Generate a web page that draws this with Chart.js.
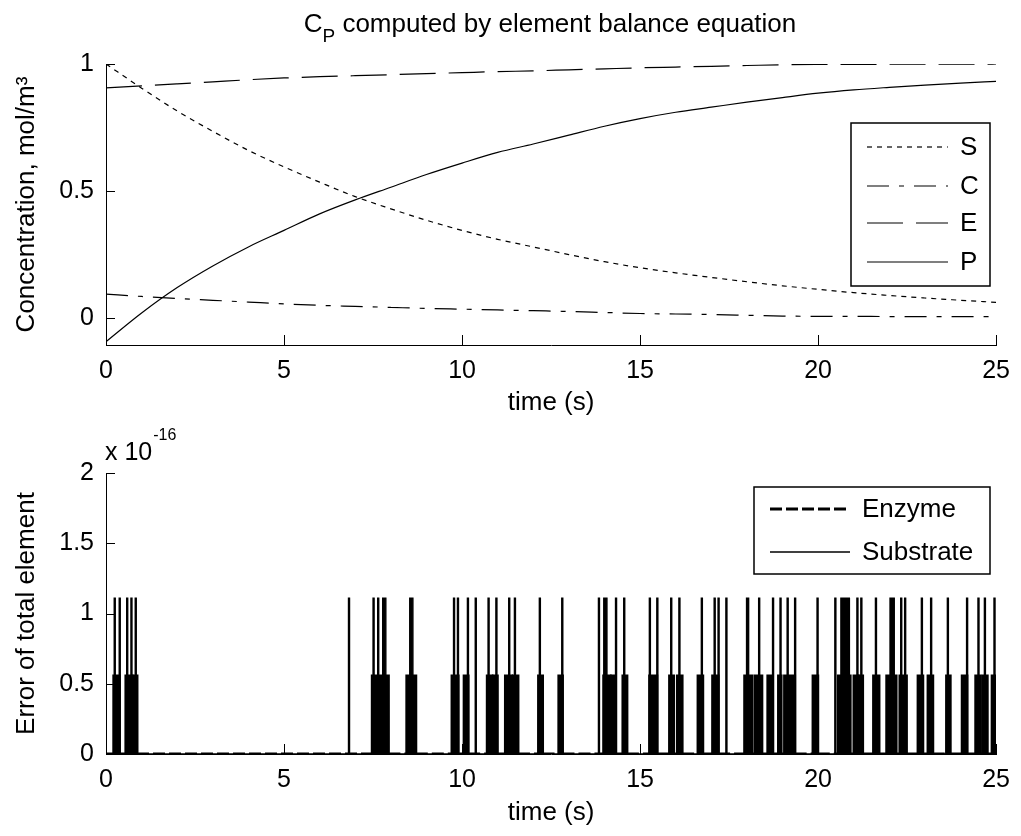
<!DOCTYPE html>
<html lang="en">
  <head>
    <meta charset="UTF-8" />
    <title>Element balance</title>
    <script src="https://cdn.jsdelivr.net/npm/chart.js"></script>
    <style>
      body {
        margin: 0;
        background: #fff;
      }
      .panel {
        position: absolute;
        left: 0;
        width: 1021px;
      }
      #topPanel {
        top: 0;
        height: 420px;
      }
      #bottomPanel {
        top: 420px;
        height: 416px;
      }
    </style>
  </head>
  <body>
    <div class="panel" id="topPanel"><canvas id="concChart"></canvas></div>
    <div class="panel" id="bottomPanel"><canvas id="errorChart"></canvas></div>

    <script>
      // ---- data ----
      const timeTop = [0, 1, 2, 3, 4, 5, 6, 7, 8, 9, 10, 11, 12, 13, 14, 15, 16, 17, 18, 19, 20, 21, 22, 23, 24, 25];
      const sConc = [1.0, 0.905, 0.815, 0.735, 0.66, 0.595, 0.535, 0.478, 0.43, 0.385, 0.345, 0.31, 0.28, 0.25, 0.222, 0.198, 0.178, 0.16, 0.143, 0.127, 0.113, 0.1, 0.089, 0.079, 0.07, 0.062];
      const cConc = [0.094, 0.085, 0.077, 0.07, 0.063, 0.056, 0.05, 0.046, 0.042, 0.038, 0.035, 0.032, 0.029, 0.026, 0.022, 0.018, 0.016, 0.014, 0.011, 0.008, 0.007, 0.007, 0.006, 0.006, 0.006, 0.006];
      const eConc = [0.906, 0.914, 0.922, 0.93, 0.938, 0.945, 0.95, 0.954, 0.958, 0.962, 0.966, 0.97, 0.973, 0.977, 0.981, 0.985, 0.988, 0.991, 0.994, 0.997, 0.998, 0.998, 0.999, 0.999, 0.999, 1.0];
      const pConc = [-0.093, 0.02, 0.12, 0.205, 0.28, 0.345, 0.41, 0.465, 0.515, 0.565, 0.61, 0.652, 0.685, 0.72, 0.755, 0.785, 0.81, 0.83, 0.85, 0.868, 0.885, 0.898, 0.908, 0.917, 0.925, 0.932];

      const xTicks = [0, 5, 10, 15, 20, 25];
      const yTicksTop = [0, 0.5, 1];
      const yTicksBottom = [0, 0.5, 1, 1.5, 2];

      // error plot, values in units of 1e-16
      const substrateLevel = 1.11;
      const enzymeLevel = 0.555;
      const substrateSpikes = [0.23, 0.37, 0.58, 0.7, 0.82, 6.81, 7.5, 7.63, 9.76, 9.87, 10.15, 10.37, 10.73, 10.95, 11.31, 11.47, 12.17, 12.8, 13.83, 14.31, 14.54, 15.26, 15.47, 15.86, 16.09, 16.72, 17.08, 17.19, 17.41, 18.33, 18.72, 18.93, 19.13, 19.34, 19.97, 20.47, 21.09, 21.2, 21.61, 22.32, 22.43, 22.9, 23.16, 23.63, 24.17, 24.49, 24.67, 24.94];
      const substrateBursts = [[7.77, 7.86], [8.53, 8.62], [13.98, 14.07], [17.99, 18.05], [20.64, 20.88], [22.02, 22.14]];
      const enzymeBlocks = [
        [0.22, 0.37], [0.56, 0.73], [0.78, 0.87], [7.48, 7.93], [8.45, 8.7], [9.72, 9.89],
        [10.06, 10.17], [10.71, 10.84], [10.88, 10.99], [11.22, 11.39], [11.44, 11.57], [12.15, 12.26],
        [12.72, 12.82], [13.98, 14.16], [14.2, 14.3], [14.52, 14.63], [15.27, 15.47], [15.83, 15.94],
        [16.05, 16.18], [16.63, 16.76], [17.04, 17.19], [17.94, 18.14], [18.23, 18.42], [18.59, 18.72],
        [18.89, 18.96], [19.06, 19.34], [19.86, 19.99], [20.57, 20.9], [21.01, 21.12], [21.16, 21.25],
        [21.56, 21.71], [21.93, 22.19], [22.3, 22.48], [22.81, 22.94], [23.09, 23.22], [23.61, 23.71],
        [24.05, 24.18], [24.43, 24.56], [24.64, 24.75], [24.89, 24.99]
      ];
      const spikeWidth = 0.03;

      const FONT = "'Liberation Sans', Arial, sans-serif";

      // turn [start, end] intervals into an up / across / down trace
      // (x kept strictly increasing so the filler behaves)
      function stepSeries(intervals, level) {
        const pts = [{ x: 0, y: 0 }];
        intervals.forEach(([a, b]) => {
          pts.push({ x: a - 0.001, y: 0 }, { x: a, y: level }, { x: b, y: level }, { x: b + 0.001, y: 0 });
        });
        pts.push({ x: 25, y: 0 });
        return pts;
      }

      const substrateIntervals = substrateSpikes
        .map((t) => [t, t + spikeWidth])
        .concat(substrateBursts)
        .sort((p, q) => p[0] - q[0]);

      // MATLAB-ish decorations: inward ticks, boxed legend, extra text
      const matlabDecor = {
        id: "matlabDecor",
        afterDatasetsDraw(chart, args, opts) {
          const { ctx, chartArea, scales } = chart;
          ctx.save();
          ctx.strokeStyle = "#000";
          ctx.fillStyle = "#000";
          ctx.lineWidth = 1;
          ctx.setLineDash([]);

          // inward tick marks
          scales.x.ticks.forEach((t) => {
            const px = Math.round(scales.x.getPixelForValue(t.value)) + 0.5;
            ctx.beginPath();
            ctx.moveTo(px, chartArea.bottom);
            ctx.lineTo(px, chartArea.bottom - 10);
            ctx.stroke();
          });
          scales.y.ticks.forEach((t) => {
            const py = Math.round(scales.y.getPixelForValue(t.value)) + 0.5;
            ctx.beginPath();
            ctx.moveTo(chartArea.left, py);
            ctx.lineTo(chartArea.left + 9, py);
            ctx.stroke();
          });

          // legend
          const lg = opts.legend;
          if (lg) {
            ctx.fillStyle = "#fff";
            ctx.fillRect(lg.x, lg.y, lg.w, lg.h);
            ctx.strokeStyle = "#000";
            ctx.lineWidth = 1.5;
            ctx.strokeRect(lg.x, lg.y, lg.w, lg.h);
            ctx.font = "26px " + FONT;
            ctx.textBaseline = "middle";
            ctx.textAlign = "left";
            chart.data.datasets.forEach((ds, i) => {
              const yy = lg.rows[i];
              ctx.lineWidth = ds.borderWidth;
              ctx.setLineDash(ds.borderDash || []);
              ctx.beginPath();
              ctx.moveTo(lg.lineX0, yy);
              ctx.lineTo(lg.lineX1, yy);
              ctx.stroke();
              ctx.setLineDash([]);
              ctx.fillStyle = "#000";
              ctx.fillText(ds.label, lg.textX, yy + 1);
            });
          }

          // title with subscript
          if (opts.title) {
            const t = opts.title;
            ctx.textBaseline = "alphabetic";
            ctx.textAlign = "left";
            ctx.fillStyle = "#000";
            ctx.font = "26px " + FONT;
            const wMain = ctx.measureText(t.main).width;
            const wRest = ctx.measureText(t.rest).width;
            ctx.font = "19px " + FONT;
            const wSub = ctx.measureText(t.sub).width;
            let x0 = t.cx - (wMain + wSub + wRest) / 2;
            ctx.font = "26px " + FONT;
            ctx.fillText(t.main, x0, t.baseline);
            ctx.font = "19px " + FONT;
            ctx.fillText(t.sub, x0 + wMain, t.baseline + 10);
            ctx.font = "26px " + FONT;
            ctx.fillText(t.rest, x0 + wMain + wSub, t.baseline);
          }

          // exponent label
          if (opts.exponent) {
            const e = opts.exponent;
            ctx.textBaseline = "alphabetic";
            ctx.textAlign = "left";
            ctx.fillStyle = "#000";
            ctx.font = "25px " + FONT;
            ctx.fillText(e.base, e.x, e.baseline);
            const wb = ctx.measureText(e.base).width;
            ctx.font = "16px " + FONT;
            ctx.fillText(e.power, e.x + wb + 1, e.baseline - 20);
          }
          ctx.restore();
        },
      };

      function axes(yMin, yMax, yTicks, yTitle, xTitlePad, xHeight) {
        const tickFont = { family: FONT, size: 25 };
        const titleFont = { family: FONT, size: 26, lineHeight: 1 };
        return {
          x: {
            type: "linear",
            min: 0,
            max: 25,
            afterBuildTicks: (s) => {
              s.ticks = xTicks.map((v) => ({ value: v }));
            },
            afterFit: (s) => {
              s.height = xHeight;
            },
            grid: { display: false, drawTicks: false },
            border: { display: true, color: "#000", width: 1 },
            ticks: { color: "#000", font: tickFont, padding: 11, maxRotation: 0, callback: (v) => String(v) },
            title: {
              display: true,
              text: "time (s)",
              color: "#000",
              font: titleFont,
              padding: { top: 0, bottom: xTitlePad },
            },
          },
          y: {
            min: yMin,
            max: yMax,
            afterBuildTicks: (s) => {
              s.ticks = yTicks.map((v) => ({ value: v }));
            },
            afterFit: (s) => {
              s.width = 106;
            },
            grid: { display: false, drawTicks: false },
            border: { display: true, color: "#000", width: 1 },
            ticks: { color: "#000", font: tickFont, padding: 12, callback: (v) => String(v) },
            title: {
              display: true,
              text: yTitle,
              color: "#000",
              font: titleFont,
              padding: { top: 14, bottom: 0 },
            },
          },
        };
      }

      const common = {
        responsive: true,
        maintainAspectRatio: false,
        animation: false,
        events: [],
        elements: { point: { radius: 0 } },
      };

      // ---- top chart ----
      new Chart(document.getElementById("concChart"), {
        type: "line",
        data: {
          datasets: [
            { label: "S", data: timeTop.map((t, i) => ({ x: t, y: sConc[i] })), borderDash: [5, 5] },
            { label: "C", data: timeTop.map((t, i) => ({ x: t, y: cConc[i] })), borderDash: [22, 10, 5, 10] },
            { label: "E", data: timeTop.map((t, i) => ({ x: t, y: eConc[i] })), borderDash: [36, 13] },
            { label: "P", data: timeTop.map((t, i) => ({ x: t, y: pConc[i] })), borderDash: [] },
          ].map((d) => ({ ...d, borderColor: "#000", borderWidth: 1.2, cubicInterpolationMode: "monotone", fill: false })),
        },
        options: {
          ...common,
          layout: { padding: { left: 0, right: 22, top: 64, bottom: 0 } },
          scales: axes(-0.106, 1, yTicksTop, "Concentration, mol/m³", 4, 75),
          plugins: {
            legend: { display: false },
            tooltip: { enabled: false },
            matlabDecor: {
              legend: { x: 851, y: 123, w: 139, h: 163, rows: [147, 186, 223, 262], lineX0: 867, lineX1: 948, textX: 960 },
              title: { main: "C", sub: "P", rest: " computed by element balance equation", cx: 550, baseline: 32 },
            },
          },
        },
        plugins: [matlabDecor],
      });

      // ---- bottom chart ----
      new Chart(document.getElementById("errorChart"), {
        type: "line",
        data: {
          datasets: [
            {
              label: "Enzyme",
              data: stepSeries(enzymeBlocks, enzymeLevel),
              borderColor: "#000",
              backgroundColor: "#000",
              borderWidth: 3,
              borderDash: [12, 4],
              // dashes only along the baseline, the raised blocks stay solid
              segment: {
                borderDash: (c) => (c.p0.parsed.y === 0 && c.p1.parsed.y === 0 ? [12, 4] : []),
              },
              fill: "origin",
              tension: 0,
            },
            {
              label: "Substrate",
              data: stepSeries(substrateIntervals, substrateLevel),
              borderColor: "#000",
              backgroundColor: "#000",
              borderWidth: 1.3,
              borderDash: [],
              fill: "origin",
              tension: 0,
            },
          ],
        },
        options: {
          ...common,
          layout: { padding: { left: 0, right: 22, top: 53, bottom: 0 } },
          scales: axes(0, 2, yTicksBottom, "Error of total element", 10, 82),
          plugins: {
            legend: { display: false },
            tooltip: { enabled: false },
            matlabDecor: {
              legend: { x: 754, y: 67, w: 236, h: 87, rows: [89, 132], lineX0: 770, lineX1: 850, textX: 862 },
              exponent: { base: "x 10", power: "-16", x: 105, baseline: 40 },
            },
          },
        },
        plugins: [matlabDecor],
      });
    </script>
  </body>
</html>
